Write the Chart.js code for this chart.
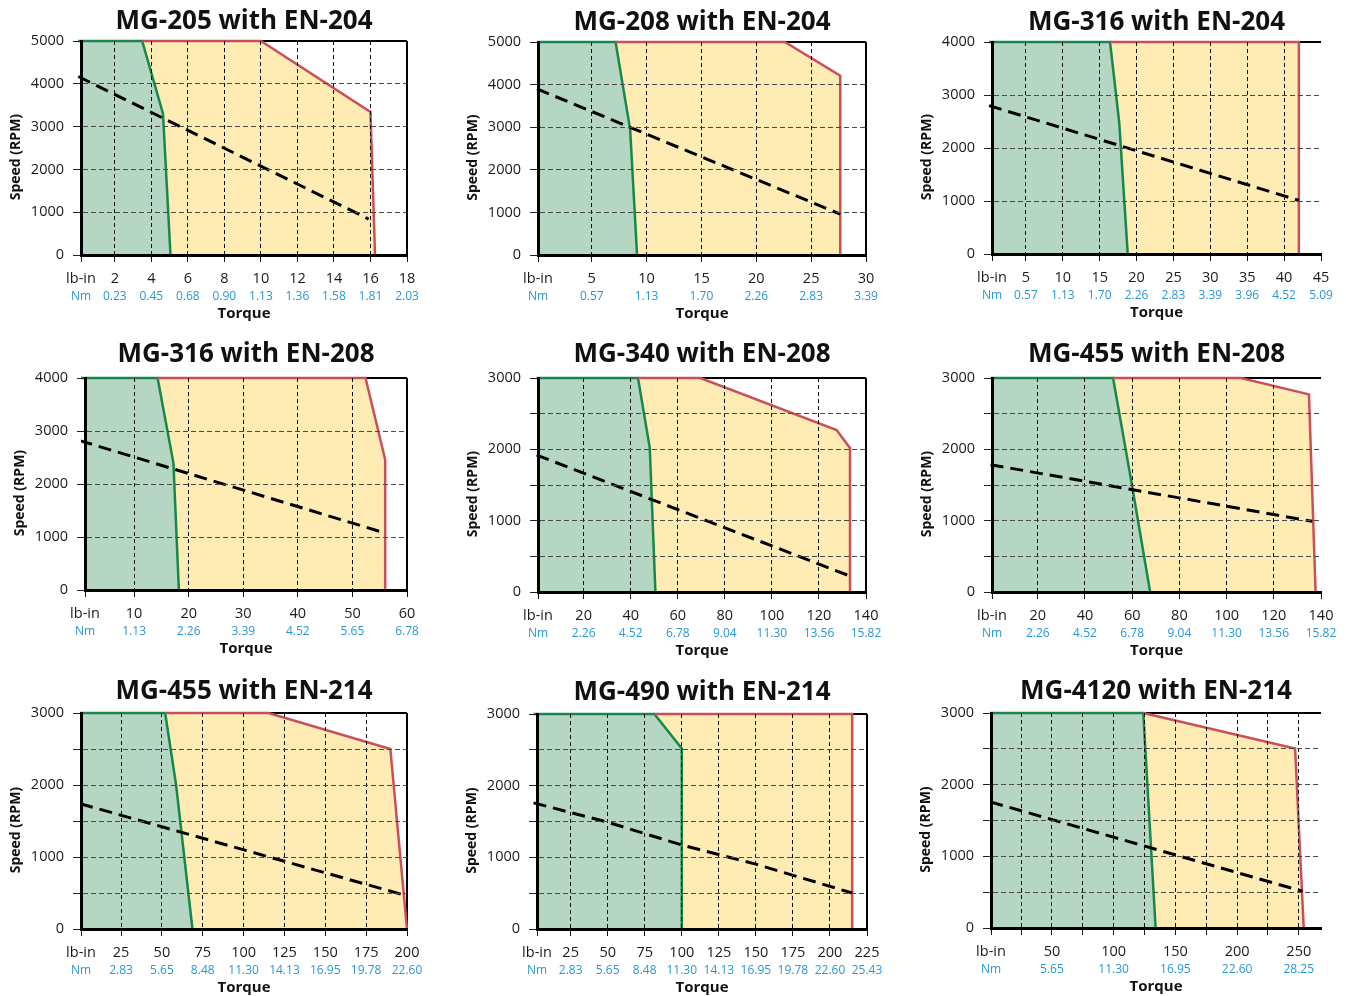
<!DOCTYPE html>
<html>
<head>
<meta charset="utf-8">
<title>Speed / torque curves</title>
<script src="https://cdn.jsdelivr.net/npm/chart.js@4.4.1/dist/chart.umd.min.js"></script>
<style>
  html, body { margin: 0; background: #fff; }
  #wrap { position: relative; width: 1346px; height: 996px; overflow: hidden; }
  #wrap canvas { position: absolute; }
</style>
</head>
<body>
<div id="wrap"></div>
<script>
// ---- data (torque in lb-in, speed in RPM) ----
const titles = ['MG-205 with EN-204', 'MG-208 with EN-204', 'MG-316 with EN-204',
                'MG-316 with EN-208', 'MG-340 with EN-208', 'MG-455 with EN-208',
                'MG-455 with EN-214', 'MG-490 with EN-214', 'MG-4120 with EN-214'];

const speedMax  = [5000, 5000, 4000, 4000, 3000, 3000, 3000, 3000, 3000];
const speedStep = [1000, 1000, 1000, 1000, 500, 500, 500, 500, 500];
const torqueMin = [0.15, 0.1, 0.4, 1, 0.6, 0.6, 0.5, 2.3, 0.6];
const torqueMax = [18, 30, 45, 60, 140, 140, 200, 225, 268];

const lbTicks = [
  [2, 4, 6, 8, 10, 12, 14, 16, 18],
  [5, 10, 15, 20, 25, 30],
  [5, 10, 15, 20, 25, 30, 35, 40, 45],
  [10, 20, 30, 40, 50, 60],
  [20, 40, 60, 80, 100, 120, 140],
  [20, 40, 60, 80, 100, 120, 140],
  [25, 50, 75, 100, 125, 150, 175, 200],
  [25, 50, 75, 100, 125, 150, 175, 200, 225],
  [25, 50, 75, 100, 125, 150, 175, 200, 225, 250]
];
const lbLabels = [
  ['2', '4', '6', '8', '10', '12', '14', '16', '18'],
  ['5', '10', '15', '20', '25', '30'],
  ['5', '10', '15', '20', '25', '30', '35', '40', '45'],
  ['10', '20', '30', '40', '50', '60'],
  ['20', '40', '60', '80', '100', '120', '140'],
  ['20', '40', '60', '80', '100', '120', '140'],
  ['25', '50', '75', '100', '125', '150', '175', '200'],
  ['25', '50', '75', '100', '125', '150', '175', '200', '225'],
  ['', '50', '', '100', '', '150', '', '200', '', '250']
];
const nmLabels = [
  ['0.23', '0.45', '0.68', '0.90', '1.13', '1.36', '1.58', '1.81', '2.03'],
  ['0.57', '1.13', '1.70', '2.26', '2.83', '3.39'],
  ['0.57', '1.13', '1.70', '2.26', '2.83', '3.39', '3.96', '4.52', '5.09'],
  ['1.13', '2.26', '3.39', '4.52', '5.65', '6.78'],
  ['2.26', '4.52', '6.78', '9.04', '11.30', '13.56', '15.82'],
  ['2.26', '4.52', '6.78', '9.04', '11.30', '13.56', '15.82'],
  ['2.83', '5.65', '8.48', '11.30', '14.13', '16.95', '19.78', '22.60'],
  ['2.83', '5.65', '8.48', '11.30', '14.13', '16.95', '19.78', '22.60', '25.43'],
  ['', '5.65', '', '11.30', '', '16.95', '', '22.60', '', '28.25']
];

// continuous duty edge (green), from the top left corner down to zero speed
const greenEdge = [
  [[0, 5000], [3.5, 5000], [4.64, 3300], [5.05, 0]],
  [[0, 5000], [7.17, 5000], [8.5, 2950], [9.13, 0]],
  [[0, 4000], [16.4, 4000], [17.65, 2480], [18.8, 0]],
  [[0, 4000], [14.3, 4000], [17.2, 2400], [18.2, 0]],
  [[0, 3000], [43.1, 3000], [48.1, 2020], [50.5, 0]],
  [[0, 3000], [51.9, 3000], [59.9, 1500], [67.6, 0]],
  [[0, 3000], [52, 3000], [58.7, 2000], [68.7, 0]],
  [[0, 3000], [81.5, 3000], [100, 2520], [100, 0]],
  [[0, 3000], [124, 3000], [134, 0]]
];
// intermittent duty edge (red), starting where the green edge leaves the top
const redEdge = [
  [[3.5, 5000], [10, 5000], [16, 3340], [16.25, 0]],
  [[7.17, 5000], [22.6, 5000], [27.65, 4210], [27.65, 0]],
  [[16.4, 4000], [42, 4000], [42, 0]],
  [[14.3, 4000], [52.4, 4000], [56, 2460], [56, 0]],
  [[43.1, 3000], [69.6, 3000], [127.5, 2270], [133.2, 2020], [133.2, 0]],
  [[51.9, 3000], [106, 3000], [134.9, 2770], [137.7, 0]],
  [[52, 3000], [115.2, 3000], [189.8, 2500], [200, 0]],
  [[81.5, 3000], [215, 3000], [215, 0]],
  [[124, 3000], [247, 2505], [254, 0]]
];
// dashed load line
const loadLine = [
  [[0, 4170], [15.9, 840]],
  [[0, 3900], [27.65, 960]],
  [[0, 2800], [42, 1010]],
  [[0, 2820], [56, 1075]],
  [[0, 1920], [133.2, 223]],
  [[0, 1785], [136.3, 991]],
  [[0, 1740], [199.4, 464]],
  [[0, 1760], [50, 1490], [100, 1172], [150, 905], [215, 502]],
  [[0, 1760], [253, 512]]
];

// ---- layout: plot rectangles on the page [left, top, right, bottom] ----
const plotBoxes = [
  [81, 41, 407, 255], [538, 42, 866, 255], [992, 42, 1321, 254],
  [85, 378, 407, 590], [538, 378, 866, 592], [992, 378, 1321, 592],
  [81, 713, 407, 929], [537, 714, 867, 929], [991, 713, 1321, 928]
];
const rightBorder = [true, true, false, true, true, false, true, true, false];
const titleTopPad = [10, 6, 8]; // per row

const FONT = "'Open Sans', 'Noto Sans', sans-serif";
const GREEN = '#16894a', GREEN_FILL = '#b4d6c3';
const RED = '#c9505b', YELLOW = '#feecb4';
const BLUE = '#2a97d5', INK = '#1a1a1a', CLEAR = 'rgba(0,0,0,0)';
const AXIS_W = 81, TITLE_H = 44, X1_H = 33, X2_H = 37, RIGHT_PAD = 18;

Chart.defaults.font.family = FONT;

// top edge of the frame, plus the right edge on the panels that have one
const framePlugin = {
  id: 'frame',
  beforeDatasetsDraw(chart, args, opts) {
    const { ctx, chartArea: a } = chart;
    ctx.save();
    ctx.strokeStyle = '#000';
    ctx.lineWidth = 2;
    ctx.beginPath();
    ctx.moveTo(a.left, a.top);
    ctx.lineTo(a.right, a.top);
    if (opts.right) {
      ctx.moveTo(a.right, a.top);
      ctx.lineTo(a.right, a.bottom);
    }
    ctx.stroke();
    ctx.restore();
  }
};

// fixed axis height; edge labels may hang into the canvas margin
const fixHeight = hgt => s => {
  s.height = hgt;
  s.paddingLeft = 0;
  s.paddingRight = 0;
};

const pts = arr => arr.map(([x, y]) => ({ x, y }));
const wrap = document.getElementById('wrap');

plotBoxes.forEach(([L, T, R, B], i) => {
  const w = AXIS_W + (R - L) + RIGHT_PAD;
  const h = TITLE_H + (B - T) + X1_H + X2_H;
  const canvas = document.createElement('canvas');
  canvas.width = w;
  canvas.height = h;
  canvas.style.left = (L - AXIS_W) + 'px';
  canvas.style.top = (T - TITLE_H) + 'px';
  wrap.appendChild(canvas);

  const xTicks = s => { s.ticks = [torqueMin[i], ...lbTicks[i]].map(value => ({ value })); };
  const line = { pointRadius: 0, tension: 0, clip: 4 };
  const tTop = titleTopPad[Math.floor(i / 3)];

  new Chart(canvas, {
    type: 'line',
    data: {
      datasets: [
        { ...line, data: pts(loadLine[i]), borderColor: '#000', borderWidth: 3, borderDash: [13, 7], fill: false, order: 1 },
        { ...line, data: pts(redEdge[i]), borderColor: RED, borderWidth: 2.5, fill: false, order: 2 },
        { ...line, data: pts(greenEdge[i]), borderColor: GREEN, borderWidth: 2.5, backgroundColor: GREEN_FILL, fill: 'origin', order: 3 },
        { ...line, data: pts([greenEdge[i][0], ...redEdge[i]]), borderWidth: 0, backgroundColor: YELLOW, fill: 'origin', order: 4 }
      ]
    },
    options: {
      responsive: false,
      devicePixelRatio: 1,
      animation: false,
      layout: { padding: { right: RIGHT_PAD } },
      plugins: {
        legend: { display: false },
        tooltip: { enabled: false },
        title: {
          display: true, text: titles[i], fullSize: false, color: '#111',
          font: { size: 26, weight: 'bold', lineHeight: 30 / 26 },
          padding: { top: tTop, bottom: 14 - tTop }
        },
        frame: { right: rightBorder[i] }
      },
      scales: {
        x: {
          type: 'linear', position: 'bottom', weight: 0,
          min: torqueMin[i], max: torqueMax[i],
          afterBuildTicks: xTicks,
          afterFit: fixHeight(X1_H),
          ticks: {
            autoSkip: false, maxRotation: 0, padding: 8, color: INK,
            font: { size: 14.5 },
            callback: (v, k) => k === 0 ? 'lb-in' : lbLabels[i][k - 1]
          },
          grid: {
            z: 1, lineWidth: 1, tickLength: 7, tickColor: '#111',
            color: c => (c.tick && (c.tick.value <= torqueMin[i] || c.tick.value >= torqueMax[i])) ? CLEAR : '#111'
          },
          border: { z: 2, color: '#000', width: 3, dash: [4, 3] }
        },
        x2: {
          type: 'linear', position: 'bottom', weight: 1,
          min: torqueMin[i], max: torqueMax[i],
          afterBuildTicks: xTicks,
          afterFit: fixHeight(X2_H),
          ticks: {
            autoSkip: false, maxRotation: 0, padding: 1, color: BLUE,
            font: { size: 12 },
            callback: (v, k) => k === 0 ? 'Nm' : nmLabels[i][k - 1]
          },
          grid: { display: false, drawTicks: false },
          border: { display: false },
          title: {
            display: true, text: 'Torque', color: '#111',
            font: { size: 15, weight: 'bold' }, padding: { top: 0, bottom: 2 }
          }
        },
        y: {
          min: 0, max: speedMax[i],
          afterFit: s => { s.width = AXIS_W; },
          ticks: {
            stepSize: speedStep[i], padding: 9, color: INK,
            font: { size: 14.5 },
            callback: v => v % 1000 === 0 ? String(v) : ''
          },
          grid: {
            z: 1, lineWidth: 1, tickLength: 8, tickColor: '#222',
            color: c => (c.tick && (c.tick.value <= 0 || c.tick.value >= speedMax[i])) ? CLEAR : '#4a4a4a'
          },
          border: { z: 2, color: '#000', width: 3, dash: [5, 3] },
          title: {
            // trailing spaces nudge the label down, as in the reference
            display: true, text: 'Speed (RPM)     ', color: '#111',
            font: { size: 14, weight: 'bold' }, padding: { top: 8, bottom: 0 }
          }
        }
      }
    },
    plugins: [framePlugin]
  });
});
</script>
</body>
</html>
